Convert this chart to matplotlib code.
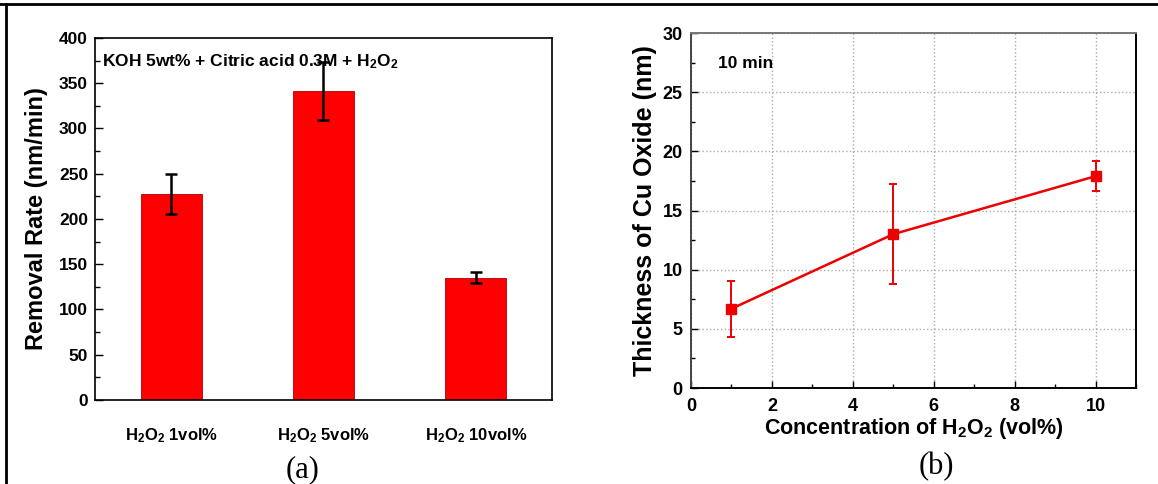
import numpy as np
import matplotlib
matplotlib.use("Agg")
from matplotlib import pyplot as plt
from matplotlib.lines import Line2D
from matplotlib.ticker import MultipleLocator

plt.rcParams['font.family'] = ['Liberation Sans', 'DejaVu Sans']
plt.rcParams['mathtext.default'] = 'regular'

# (a) removal rate
labels_a = [r'H$_2$O$_2$ 1vol%', r'H$_2$O$_2$ 5vol%', r'H$_2$O$_2$ 10vol%']
rate = [228, 341, 135]
rate_err = [22, 32, 6]

# (b) oxide thickness
conc = [1, 5, 10]
thick = [6.7, 13.0, 17.9]
thick_err = [2.35, 4.25, 1.25]

fig = plt.figure(figsize=(11.58, 4.84), dpi=100)

# outer frame (top and left only)
fig.add_artist(Line2D([0, 1], [0.9917, 0.9917], transform=fig.transFigure, color='black', lw=2))
fig.add_artist(Line2D([0.0052, 0.0052], [0, 0.9917], transform=fig.transFigure, color='black', lw=2))

ax1 = fig.add_axes([0.082, 0.1736, 0.3947, 0.748])
x = np.arange(len(rate))
ax1.bar(x, rate, width=0.4, color='#ff0000', edgecolor='#b00000', lw=0.6)
ax1.errorbar(x, rate, yerr=rate_err, fmt='none', ecolor='black', elinewidth=1.8, capsize=4, capthick=1.8)
ax1.set_xlim(-0.5, 2.5)
ax1.set_ylim(0, 400)
ax1.yaxis.set_major_locator(MultipleLocator(50))
ax1.yaxis.set_minor_locator(MultipleLocator(25))
ax1.tick_params(axis='y', which='major', direction='in', length=6, width=1, labelsize=12.5, pad=5)
ax1.tick_params(axis='y', which='minor', direction='in', length=3.5, width=1)
ax1.tick_params(axis='x', length=0, labelsize=12, pad=19)
ax1.set_xticks(x)
ax1.set_xticklabels(labels_a)
for t in ax1.get_yticklabels() + ax1.get_xticklabels():
    t.set_fontweight('bold')
ax1.set_ylabel('Removal Rate (nm/min)', fontsize=17, fontweight='bold', labelpad=8)
ax1.text(0.015, 0.96, r'KOH 5wt% + Citric acid 0.3M + H$_2$O$_2$', transform=ax1.transAxes,
         fontsize=12.5, fontweight='bold', va='top', ha='left')
for s in ax1.spines.values():
    s.set_linewidth(1.2)

ax2 = fig.add_axes([0.5967, 0.1983, 0.3843, 0.7335])
ax2.errorbar(conc, thick, yerr=thick_err, color='#ee0000', lw=1.8, marker='s', ms=7,
             ecolor='#ee0000', elinewidth=1.4, capsize=3, capthick=1.4)
ax2.set_xlim(0, 11)
ax2.set_ylim(0, 30)
ax2.xaxis.set_major_locator(MultipleLocator(2))
ax2.xaxis.set_minor_locator(MultipleLocator(1))
ax2.yaxis.set_major_locator(MultipleLocator(5))
ax2.yaxis.set_minor_locator(MultipleLocator(2.5))
ax2.tick_params(which='major', direction='in', length=5, width=1, labelsize=13)
ax2.tick_params(axis='x', which='major', pad=7)
ax2.tick_params(axis='y', which='major', pad=6)
ax2.tick_params(which='minor', direction='in', length=3, width=1)
for t in ax2.get_yticklabels() + ax2.get_xticklabels():
    t.set_fontweight('bold')
ax2.grid(True, which='major', ls=':', color='#aaaaaa', lw=1)
ax2.set_axisbelow(True)
ax2.set_ylabel('Thickness of Cu Oxide (nm)', fontsize=18, fontweight='bold', labelpad=4)
ax2.set_xlabel(r'Concentration of H$_2$O$_2$ (vol%)', fontsize=15.5, fontweight='bold', labelpad=1)
ax2.text(0.06, 0.935, '10 min', transform=ax2.transAxes, fontsize=12.5, fontweight='bold', va='top')
for s in ax2.spines.values():
    s.set_linewidth(1.4)
ax2.spines['top'].set_color('#777777')
ax2.spines['left'].set_color('#444444')

fig.text(0.261, 0.0, '(a)', family='Liberation Serif', fontsize=22, ha='center', va='bottom')
fig.text(0.809, 0.005, '(b)', family='Liberation Serif', fontsize=22, ha='center', va='bottom')

fig.savefig('out.png', dpi=100)
